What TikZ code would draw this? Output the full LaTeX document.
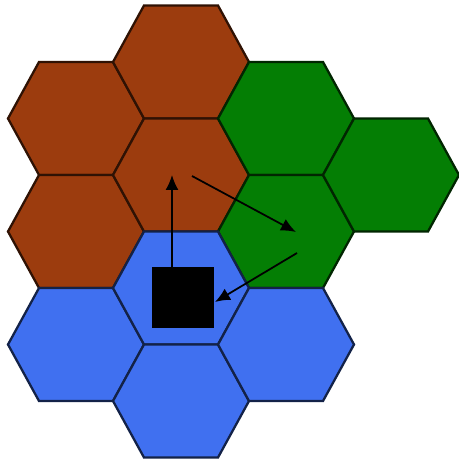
\documentclass[tikz,border=0pt]{standalone}
\usepackage{tikz}
\usetikzlibrary{arrows.meta,calc,positioning}
\definecolor{cellbrown}{RGB}{156,60,14}
\definecolor{cellgreen}{RGB}{4,126,4}
\definecolor{cellblue}{RGB}{64,112,240}
\tikzset{
  cell/.style={
    line width=1.3pt,
    line join=miter
  },
  mobile/.style={
    draw=black,
    fill=black,
    minimum width=1.22cm,
    minimum height=1.2cm,
    inner sep=0pt
  },
  arrow/.style={
    -{Latex[length=3mm,width=2.6mm]},
    line width=1pt,
    black
  }
}
\begin{document}
\begin{tikzpicture}[x=0.02cm,y=-0.02cm]
\useasboundingbox (0,0) rectangle (458,463);
% cells: x, y, colour
\foreach \x/\y/\c in {76/118.5/cellbrown, 76/231.5/cellbrown, 181/62/cellbrown, 181/175/cellbrown,
                      286/118.5/cellgreen, 286/231.5/cellgreen, 391/175/cellgreen,
                      76/344.5/cellblue, 181/288/cellblue, 181/401/cellblue, 286/344.5/cellblue}
  \draw[cell, fill=\c, draw=\c!30!black, shift={(\x,\y)}]
    (-68,0) -- (-37,-56.5) -- (37,-56.5) -- (68,0) -- (37,56.5) -- (-37,56.5) -- cycle;

\node[mobile] (mobile) at (182.5,297) {};
\coordinate (up) at (172,175);
\coordinate (p1) at (192,176);
\coordinate (p2) at (296,232);
\coordinate (p3) at (297,253);
\coordinate (p4) at (215,302);
\draw[arrow] (mobile.north -| up) -- (up);
\draw[arrow] (p1) -- (p2);
\draw[arrow] (p3) -- (p4);
\end{tikzpicture}
\end{document}
